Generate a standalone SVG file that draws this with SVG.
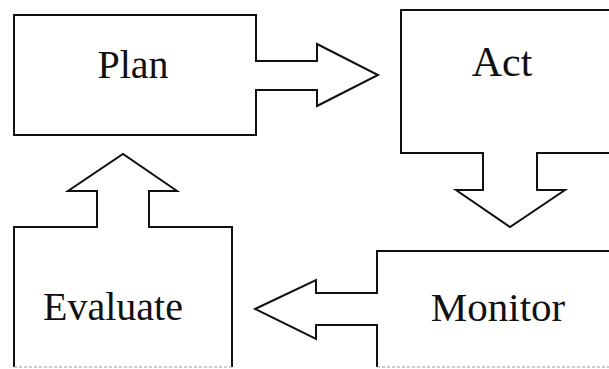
<svg xmlns="http://www.w3.org/2000/svg" width="609" height="369" viewBox="0 0 609 369">
<style>
.box{fill:#fff;stroke:#111;stroke-width:2;stroke-linejoin:miter}
.open{fill:none;stroke:#111;stroke-width:2}
.faint{fill:none;stroke:#999;stroke-width:1;stroke-dasharray:3 2}
.arrow{fill:#fff;stroke:#111;stroke-width:2;stroke-linejoin:miter}
.lbl{font-family:"Liberation Serif","Times New Roman",serif;font-size:40px;fill:#111;text-anchor:middle}
</style>
<rect width="609" height="369" fill="#fff"/>
<g id="plan">
<rect class="box" x="14" y="15" width="242" height="120"/>
<text class="lbl" x="133" y="78">Plan</text>
</g>
<g id="act">
<path class="box" d="M612 10 H401 V153 H612"/>
<text class="lbl" x="502" y="76" font-size="42" style="font-size:42px">Act</text>
</g>
<g id="monitor">
<path class="box" d="M612 251 H377 V367"/>
<path class="faint" d="M377 367 H609"/>
<text class="lbl" x="498" y="321" style="font-size:41px">Monitor</text>
</g>
<g id="evaluate">
<path class="box" d="M14 367 V227 H232 V367"/>
<path class="faint" d="M14 367 H232"/>
<text class="lbl" x="113" y="320">Evaluate</text>
</g>
<g id="connectors">
<path class="arrow" d="M255 61 H317 V44 L378 75 L317 106 V90 H255"/>
<path class="arrow" d="M483 152 V190 H456 L510 227 L565 190 H537 V152"/>
<path class="arrow" d="M378 293 H316 V280 L255 309 L316 339 V325 H378"/>
<path class="arrow" d="M97 228 V191 H68 L123 154 L177 191 H149 V228"/>
</g>
</svg>
